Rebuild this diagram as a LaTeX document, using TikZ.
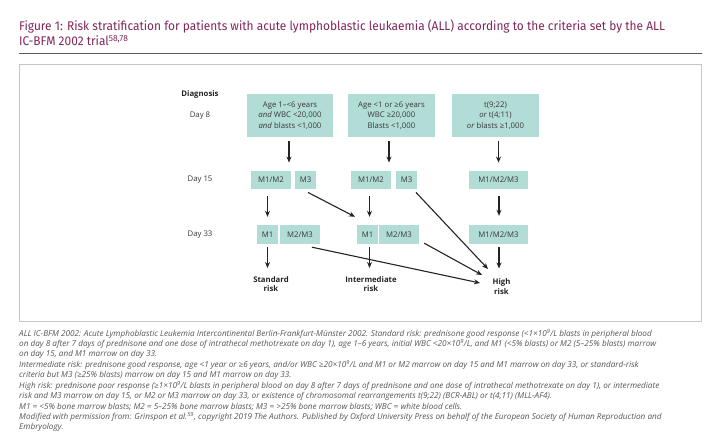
\documentclass[tikz,border=0pt]{standalone}
\usepackage{fontspec}
\setmainfont{Open Sans}
\newfontfamily\titlefont[FakeStretch=0.945]{Fira Sans}
\usetikzlibrary{arrows.meta}

\definecolor{titlecolor}{RGB}{128,38,90}
\definecolor{boxcolor}{RGB}{178,221,214}
\definecolor{linecolor}{RGB}{35,35,35}
\definecolor{textcolor}{RGB}{55,55,55}
\definecolor{notecolor}{RGB}{85,85,85}

\tikzset{
    box/.style={fill=boxcolor, inner sep=0pt, text=textcolor, align=center,
        font=\fontsize{7.8}{10.5}\selectfont},
    bigbox/.style={box, minimum width=86bp, minimum height=43bp},
    smallbox/.style={box, minimum height=18.5bp},
    rowlabel/.style={text=textcolor, font=\fontsize{7.8}{10}\selectfont},
    risk/.style={anchor=north, inner sep=0pt, align=center, text=linecolor,
        font=\bfseries\fontsize{7.8}{9.5}\selectfont},
    arrow/.style={draw=linecolor, line width=1.1bp, -{Stealth[length=6bp,width=5bp]}}
}

\begin{document}
\begin{tikzpicture}[x=1bp,y=-1bp]

    \useasboundingbox (0,0) rectangle (722,448);

    % title and frame
    \node[anchor=north west, inner sep=0pt, align=left, text=titlecolor,
        font=\titlefont\fontsize{12.65}{15}\selectfont] (title) at (19,20)
        {Figure 1: Risk stratification for patients with acute lymphoblastic leukaemia (ALL) according to the criteria set by the ALL\\
         IC-BFM 2002 trial\textsuperscript{58,78}};
    \draw[gray!70!black, line width=1.5bp] (19,53.5) -- (702,53.5);
    \draw[gray!45, line width=1bp] (19,65) rectangle (701,321.5);

    % row labels
    \node[rowlabel, font=\bfseries\fontsize{7.8}{10}\selectfont, text=linecolor] (diagnosis) at (200,94) {Diagnosis};
    \node[rowlabel] (day8) at (200,116) {Day 8};
    \node[rowlabel] (day15) at (200,180) {Day 15};
    \node[rowlabel] (day33) at (200,234.5) {Day 33};

    % day 8
    \node[bigbox] (diag1) at (290,115.5) {Age 1--<6 years\\\textit{and} WBC <20,000\\\textit{and} blasts <1,000};
    \node[bigbox, minimum width=87bp] (diag2) at (391.5,115.5) {Age <1 or ≥6 years\\WBC ≥20,000\\Blasts <1,000};
    \node[bigbox, minimum width=87bp] (diag3) at (495.5,115.5) {t(9;22)\\\textit{or} t(4;11)\\\textit{or} blasts ≥1,000};

    % day 15
    \node[smallbox, minimum width=40bp] (mA) at (271,180) {M1/M2};
    \node[smallbox, minimum width=21bp] (mB) at (305.5,180) {M3};
    \node[smallbox, minimum width=40bp] (mC) at (371,180) {M1/M2};
    \node[smallbox, minimum width=21bp] (mD) at (406.5,180) {M3};
    \node[smallbox, minimum width=59bp] (mE) at (498.5,180) {M1/M2/M3};

    % day 33
    \node[smallbox, minimum width=21bp, minimum height=19bp] (nA) at (267.5,234.5) {M1};
    \node[smallbox, minimum width=40bp, minimum height=19bp] (nB) at (300,234.5) {M2/M3};
    \node[smallbox, minimum width=21bp, minimum height=19bp] (nC) at (367.5,234.5) {M1};
    \node[smallbox, minimum width=40bp, minimum height=19bp] (nD) at (399,234.5) {M2/M3};
    \node[smallbox, minimum width=59bp, minimum height=19bp] (nE) at (498.5,234.5) {M1/M2/M3};

    % outcomes
    \node[risk] (standard) at (271,276) {Standard\\risk};
    \node[risk] (intermediate) at (371,276) {Intermediate\\risk};
    \node[risk] (high) at (501.5,278.5) {High\\risk};

    % arrows
    \draw[arrow, shorten <=4bp, shorten >=8bp] ([xshift=-1bp]diag1.south) -- ([xshift=-1bp]diag1.south |- mA.north);
    \draw[arrow, shorten <=4bp, shorten >=8bp] ([xshift=-2.5bp]diag2.south) -- ([xshift=-2.5bp]diag2.south |- mC.north);
    \draw[arrow, shorten <=4bp, shorten >=8bp] (mE.north |- diag3.south) -- (mE.north);

    \draw[arrow, shorten <=7bp, shorten >=8bp] (nA.north |- mA.south) -- (nA.north);
    \draw[arrow] ([xshift=2.5bp,yshift=-3bp]mB.south) -- ([xshift=-12.5bp,yshift=8bp]nC.north);
    \draw[arrow, shorten <=7bp, shorten >=8bp] ([xshift=2bp]nC.north |- mC.south) -- ([xshift=2bp]nC.north);
    \draw[arrow] ([xshift=9.5bp,yshift=-3bp]mD.south) -- ([xshift=-13.5bp,yshift=9.5bp]high.north);
    \draw[arrow, shorten <=7bp, shorten >=9bp] ([xshift=0.5bp]mE.south) -- ([xshift=0.5bp]nE.north);

    \draw[arrow, shorten <=3bp, shorten >=8bp] (nA.south) -- (nA.south |- standard.north);
    \draw[arrow, shorten <=3bp, shorten >=8bp] ([xshift=2bp]nC.south) -- ([xshift=2bp]nC.south |- intermediate.north);
    \draw[arrow, shorten <=3bp, shorten >=10bp] ([xshift=0.5bp]nE.south) -- ([xshift=0.5bp]nE.south |- high.north);

    \draw[arrow] ([xshift=12bp,yshift=-3bp]nB.south) -- ([xshift=-21.5bp,yshift=-4.5bp]high.north);
    \draw[arrow] ([xshift=5bp,yshift=1bp]nD.south east) -- ([xshift=-19.5bp,yshift=3.5bp]high.north);

    % notes
    \node[anchor=north west, inner sep=0pt, align=left, text=notecolor,
        font=\itshape\fontsize{8.2}{10.45}\selectfont] (notes) at (19,329)
        {ALL IC-BFM 2002: Acute Lymphoblastic Leukemia Intercontinental Berlin-Frankfurt-Münster 2002. Standard risk: prednisone good response (<1×10\textsuperscript{9}/L blasts in peripheral blood\\
         on day 8 after 7 days of prednisone and one dose of intrathecal methotrexate on day 1), age 1--6 years, initial WBC <20×10\textsuperscript{9}/L, and M1 (<5\% blasts) or M2 (5--25\% blasts) marrow\\
         on day 15, and M1 marrow on day 33.\\
         Intermediate risk: prednisone good response, age <1 year or ≥6 years, and/or WBC ≥20×10\textsuperscript{9}/L and M1 or M2 marrow on day 15 and M1 marrow on day 33, or standard-risk\\
         criteria but M3 (≥25\% blasts) marrow on day 15 and M1 marrow on day 33.\\
         High risk: prednisone poor response (≥1×10\textsuperscript{9}/L blasts in peripheral blood on day 8 after 7 days of prednisone and one dose of intrathecal methotrexate on day 1), or intermediate\\
         risk and M3 marrow on day 15, or M2 or M3 marrow on day 33, or existence of chromosomal rearrangements t(9;22) (BCR-ABL) or t(4;11) (MLL-AF4).\\
         M1 = <5\% bone marrow blasts; M2 = 5--25\% bone marrow blasts; M3 = >25\% bone marrow blasts; WBC = white blood cells.\\
         Modified with permission from: Grinspon et al.\textsuperscript{59}, copyright 2019 The Authors. Published by Oxford University Press on behalf of the European Society of Human Reproduction and\\
         Embryology.};

\end{tikzpicture}
\end{document}
